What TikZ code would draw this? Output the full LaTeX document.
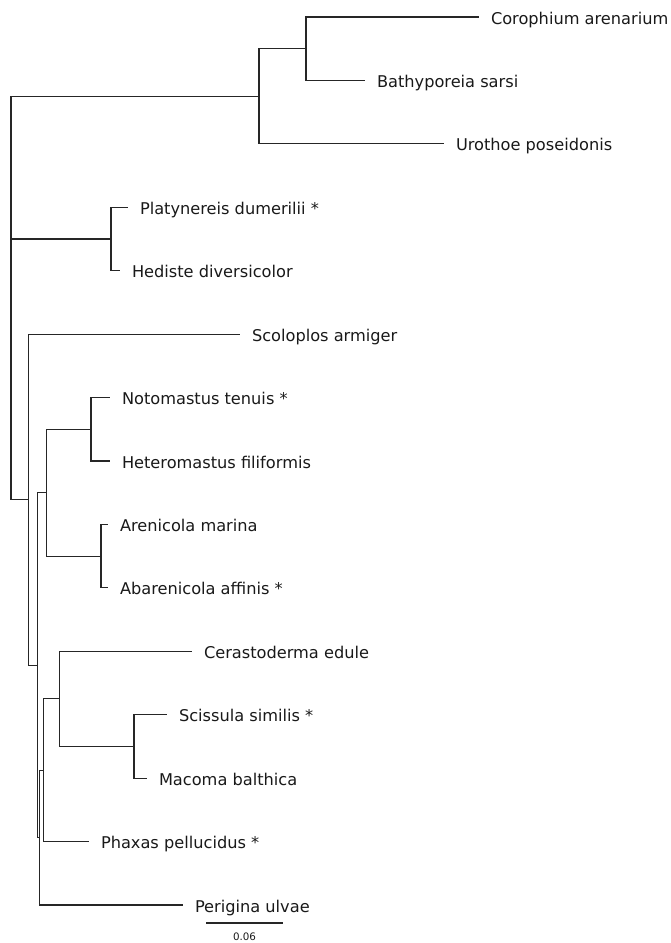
\documentclass[tikz,border=0pt]{standalone}
\usepackage{fontspec}
\setmainfont{DejaVu Sans}
\begin{document}
\begin{tikzpicture}[x=1pt,y=-1pt,
  branch/.style={draw=black!85,line width=1.1pt},
  leaf/.style={anchor=west,inner xsep=12pt,inner ysep=0pt,outer sep=0pt,
    text height=14pt,text depth=0pt,font=\fontsize{16.2}{18}\selectfont,text=black!90},
  scalelabel/.style={inner sep=0pt,font=\fontsize{10.3}{12}\selectfont,text=black!90}]
\useasboundingbox (0,0) rectangle (671,943);
% leaves
\node[leaf] (cor) at (479,17) {Corophium arenarium};
\node[leaf] (bat) at (365,80.4) {Bathyporeia sarsi};
\node[leaf] (uro) at (444,143.9) {Urothoe poseidonis};
\node[leaf] (pla) at (128,207.3) {Platynereis dumerilii *};
\node[leaf] (hed) at (120,270.7) {Hediste diversicolor};
\node[leaf] (sco) at (240,334.2) {Scoloplos armiger};
\node[leaf] (not) at (110,397.6) {Notomastus tenuis *};
\node[leaf] (het) at (110,461) {Heteromastus filiformis};
\node[leaf] (are) at (108,524.4) {Arenicola marina};
\node[leaf] (aba) at (108,587.9) {Abarenicola affinis *};
\node[leaf] (cer) at (192,651.3) {Cerastoderma edule};
\node[leaf] (sci) at (167,714.7) {Scissula similis *};
\node[leaf] (mac) at (147,778.2) {Macoma balthica};
\node[leaf] (pha) at (89,841.6) {Phaxas pellucidus *};
\node[leaf] (per) at (183,905) {Perigina ulvae};
% internal nodes
\coordinate (n1) at (306,48.7);
\coordinate (n2) at (259,96.5);
\coordinate (n3) at (111,239);
\coordinate (nNH) at (91,429.3);
\coordinate (nAA) at (101,556.1);
\coordinate (nC) at (46.7,492.7);
\coordinate (nSM) at (134,746.4);
\coordinate (nG) at (59.3,698.9);
\coordinate (nF) at (43.3,770.2);
\coordinate (nE) at (39.3,837.6);
\coordinate (nB) at (37.5,665.1);
\coordinate (nA) at (28.3,499.7);
\coordinate (root) at (11,239);
% branches
\draw[branch] (n1) |- (cor.west);
\draw[branch] (n1) |- (bat.west);
\draw[branch] (n2) |- (n1);
\draw[branch] (n2) |- (uro.west);
\draw[branch] (n3) |- (pla.west);
\draw[branch] (n3) |- (hed.west);
\draw[branch] (nNH) |- (not.west);
\draw[branch] (nNH) |- (het.west);
\draw[branch] (nAA) |- (are.west);
\draw[branch] (nAA) |- (aba.west);
\draw[branch] (nC) |- (nNH);
\draw[branch] (nC) |- (nAA);
\draw[branch] (nSM) |- (sci.west);
\draw[branch] (nSM) |- (mac.west);
\draw[branch] (nG) |- (cer.west);
\draw[branch] (nG) |- (nSM);
\draw[branch] (nF) |- (nG);
\draw[branch] (nF) |- (pha.west);
\draw[branch] (nE) |- (nF);
\draw[branch] (nE) |- (per.west);
\draw[branch] (nB) |- (nC);
\draw[branch] (nB) |- (nE);
\draw[branch] (nA) |- (sco.west);
\draw[branch] (nA) |- (nB);
\draw[branch] (root) |- (n2);
\draw[branch] (root) |- (n3);
\draw[branch] (root) |- (nA);
% scale bar
\coordinate (sb1) at (206,923);
\coordinate (sb2) at (283,923);
\draw[branch] (sb1) -- (sb2);
\node[scalelabel] (sbl) at (244.5,936.5) {0.06};
\end{tikzpicture}
\end{document}
